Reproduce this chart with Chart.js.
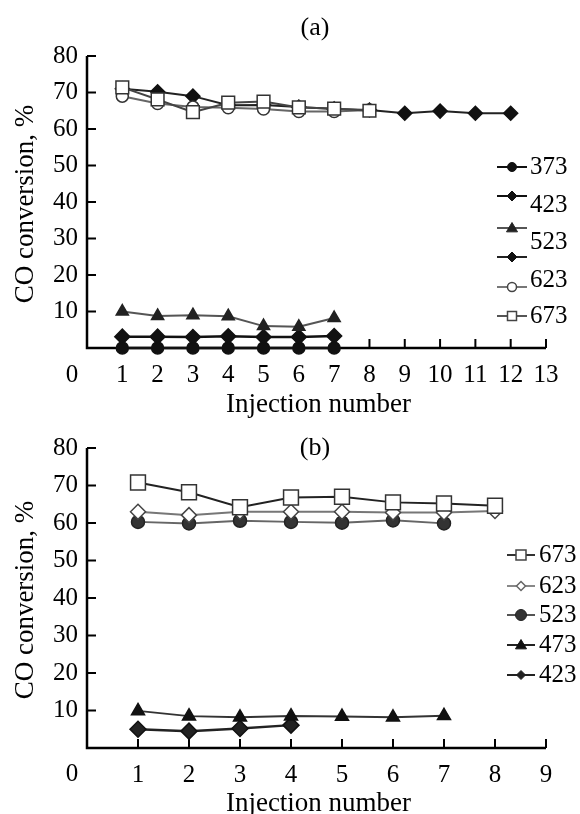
<!DOCTYPE html>
<html><head><meta charset="utf-8">
<script src="https://cdn.jsdelivr.net/npm/chart.js@4.4.1/dist/chart.umd.min.js"></script>
<style>html,body{margin:0;padding:0;background:#fff;}canvas{display:block;}</style>
</head><body>
<canvas id="ca" width="580" height="420"></canvas>
<canvas id="cb" width="580" height="394"></canvas>
<script>
// ---------- DATA ----------
// Panel (a)
const injA7  = [1, 2, 3, 4, 5, 6, 7];
const injA8  = [1, 2, 3, 4, 5, 6, 7, 8];
const injA12 = [1, 2, 3, 4, 5, 6, 7, 8, 9, 10, 11, 12];
const a373 = [0, 0, 0, 0, 0, 0, 0];
const a423 = [3.1, 3.1, 3.0, 3.2, 3.0, 3.0, 3.3];
const a523 = [10, 8.8, 9, 8.7, 6, 5.8, 8.2];
const a573 = [71, 70.2, 69, 66.5, 66.6, 66, 65.5, 65.2, 64.3, 64.9, 64.3, 64.3];
const a623 = [69, 67, 66, 65.8, 65.5, 64.8, 64.8, 65.2];
const a673 = [71.4, 68.1, 64.6, 67.2, 67.5, 65.9, 65.6, 65.0];
const legendTextA = ['373', '423', '523', '623', '673'];
// Panel (b)
const injB4 = [1, 2, 3, 4];
const injB7 = [1, 2, 3, 4, 5, 6, 7];
const injB8 = [1, 2, 3, 4, 5, 6, 7, 8];
const b673 = [70.8, 68.2, 64.2, 66.8, 67, 65.5, 65.2, 64.6];
const b623 = [63, 62.1, 63, 63, 63, 62.8, 62.8, 63.2];
const b523 = [60.3, 59.9, 60.6, 60.3, 60.1, 60.7, 59.9];
const b473 = [9.9, 8.5, 8.2, 8.5, 8.4, 8.2, 8.6];
const b423 = [5.0, 4.5, 5.2, 6.1];
const legendTextB = ['673', '623', '523', '473', '423'];
const yTicks = [0, 10, 20, 30, 40, 50, 60, 70, 80];

const FONT = '"Liberation Serif", "Times New Roman", serif';
const FS = 25;        // tick labels and legend
const FS_AXIS = 27;   // axis titles
const FS_PANEL = 26;  // (a), (b)
Chart.defaults.font.family = FONT;
Chart.defaults.font.size = FS;
Chart.defaults.color = '#000';

const pts = (xs, ys) => xs.map((x, i) => ({x: x, y: ys[i]}));

function ds(label, xs, ys, o) {
  return Object.assign({
    label: label, data: pts(xs, ys), tension: 0, clip: false,
    borderColor: '#222', borderWidth: 2, pointStyle: 'circle', pointRadius: 6,
    pointBackgroundColor: '#111', pointBorderColor: '#111', pointBorderWidth: 1.5
  }, o);
}

function marker(ctx, style, x, y, r, fill, stroke, lw) {
  ctx.save();
  ctx.fillStyle = fill; ctx.strokeStyle = stroke; ctx.lineWidth = lw;
  ctx.beginPath();
  if (style === 'circle') ctx.arc(x, y, r, 0, Math.PI * 2);
  else if (style === 'rect') ctx.rect(x - r, y - r, 2 * r, 2 * r);
  else if (style === 'rectRot') { ctx.moveTo(x, y - r); ctx.lineTo(x + r, y); ctx.lineTo(x, y + r); ctx.lineTo(x - r, y); ctx.closePath(); }
  else if (style === 'triangle') { ctx.moveTo(x, y - r); ctx.lineTo(x + r, y + r * 0.7); ctx.lineTo(x - r, y + r * 0.7); ctx.closePath(); }
  ctx.fill(); ctx.stroke();
  ctx.restore();
}

function makePlugin(cfg) {
  return {
    id: 'deco' + cfg.name,
    beforeDatasetsDraw(chart) {
      const {ctx, scales: {x, y}} = chart;
      const L = x.getPixelForValue(0), R = x.getPixelForValue(cfg.xmax);
      const B = y.getPixelForValue(0), T = y.getPixelForValue(80);
      ctx.save();
      ctx.strokeStyle = '#000'; ctx.lineWidth = 2.5;
      ctx.beginPath(); ctx.moveTo(L, T); ctx.lineTo(L, B); ctx.lineTo(R, B); ctx.stroke();
      ctx.lineWidth = 2; ctx.beginPath();
      x.ticks.forEach(t => { if (t.value > 0) { const p = x.getPixelForValue(t.value); ctx.moveTo(p, B); ctx.lineTo(p, B - 9); } });
      y.ticks.forEach(t => { if (t.value > 0) { const p = y.getPixelForValue(t.value); ctx.moveTo(L, p); ctx.lineTo(L + 9, p); } });
      ctx.stroke();
      ctx.restore();
    },
    afterDraw(chart) {
      const {ctx, scales: {x, y}} = chart;
      const B = y.getPixelForValue(0);
      ctx.save();
      ctx.fillStyle = '#000';
      ctx.textBaseline = 'middle'; ctx.textAlign = 'center';
      ctx.font = FS_PANEL + 'px ' + FONT;
      ctx.fillText(cfg.title, cfg.titleX, cfg.titleY);
      ctx.font = FS_AXIS + 'px ' + FONT;
      ctx.fillText('Injection number', (x.left + x.right) / 2 + 2, B + cfg.xTitleDy);
      ctx.save();
      ctx.translate(26, (y.top + y.bottom) / 2 + 2);
      ctx.rotate(-Math.PI / 2);
      ctx.fillText('CO conversion, %', 0, 0);
      ctx.restore();
      ctx.font = FS + 'px ' + FONT;
      ctx.fillText('0', 72, B + cfg.zeroDy);
      // legend
      cfg.legend.forEach(it => {
        ctx.save(); ctx.strokeStyle = it.line; ctx.lineWidth = 2;
        ctx.beginPath(); ctx.moveTo(it.x0, it.y); ctx.lineTo(it.x1, it.y); ctx.stroke(); ctx.restore();
        marker(ctx, it.style, it.mx, it.y, it.r, it.fill, it.stroke, it.lw);
      });
      ctx.textAlign = 'left';
      cfg.legendText.forEach(t => ctx.fillText(t.t, t.x, t.y));
      ctx.restore();
    }
  };
}

function makeChart(id, datasets, xmax, pad, plugin) {
  return new Chart(document.getElementById(id), {
    type: 'line',
    data: {datasets: datasets},
    options: {
      responsive: false, animation: false, events: [],
      layout: {padding: pad},
      plugins: {legend: {display: false}, tooltip: {enabled: false}, title: {display: false}},
      scales: {
        x: {type: 'linear', min: 0, max: xmax,
            grid: {display: false, drawTicks: false}, border: {display: false},
            ticks: {stepSize: 1, padding: 12, maxRotation: 0, autoSkip: false,
                    callback: v => v === 0 ? '' : String(v)},
            afterFit: s => { s.height = 42; }},
        y: {type: 'linear', min: 0, max: 80,
            grid: {display: false, drawTicks: false}, border: {display: false},
            afterBuildTicks: s => { s.ticks = yTicks.map(v => ({value: v})); },
            ticks: {padding: 9, callback: v => v === 0 ? '' : String(v)},
            afterFit: s => { s.width = 87; }}
      }
    },
    plugins: [plugin]
  });
}

// ---------- Panel (a) ----------
const dsA = [
  ds('673', injA8, a673, {borderColor: '#444', pointStyle: 'rect', pointRadius: 9, pointBackgroundColor: '#fff', pointBorderColor: '#333'}),
  ds('623', injA8, a623, {borderColor: '#666', pointStyle: 'circle', pointRadius: 6, pointBackgroundColor: '#fff', pointBorderColor: '#333'}),
  ds('573', injA12, a573, {borderColor: '#222', pointStyle: 'rectRot', pointRadius: 7, pointBackgroundColor: '#111', pointBorderColor: '#111'}),
  ds('523', injA7, a523, {borderColor: '#555', pointStyle: 'triangle', pointRadius: 7, pointBackgroundColor: '#222', pointBorderColor: '#222'}),
  ds('423', injA7, a423, {borderColor: '#111', borderWidth: 2.5, pointStyle: 'rectRot', pointRadius: 7.5, pointBackgroundColor: '#111', pointBorderColor: '#111'}),
  ds('373', injA7, a373, {borderColor: '#111', borderWidth: 2.5, pointStyle: 'circle', pointRadius: 6, pointBackgroundColor: '#111', pointBorderColor: '#111'})
];
const legA = [
  {y: 167, style: 'circle', r: 4.5, fill: '#111', stroke: '#111', lw: 1, line: '#111'},
  {y: 196, style: 'rectRot', r: 5, fill: '#111', stroke: '#111', lw: 1, line: '#111'},
  {y: 228, style: 'triangle', r: 5.5, fill: '#222', stroke: '#222', lw: 1, line: '#555'},
  {y: 257, style: 'rectRot', r: 5, fill: '#111', stroke: '#111', lw: 1, line: '#222'},
  {y: 287, style: 'circle', r: 4.5, fill: '#fff', stroke: '#444', lw: 1.5, line: '#777'},
  {y: 316, style: 'rect', r: 4.5, fill: '#fff', stroke: '#444', lw: 1.5, line: '#555'}
].map(o => Object.assign(o, {x0: 497, x1: 527, mx: 512}));
const legTA = [167, 205, 242, 280, 316].map((yy, i) => ({t: legendTextA[i], x: 530, y: yy}));
makeChart('ca', dsA, 13, {left: 0, top: 56, right: 34, bottom: 30},
  makePlugin({name: 'a', xmax: 13, title: '(a)', titleX: 315, titleY: 28, xTitleDy: 57, zeroDy: 27,
              legend: legA, legendText: legTA}));

// ---------- Panel (b) ----------
const dsB = [
  ds('673', injB8, b673, {borderColor: '#222', pointStyle: 'rect', pointRadius: 10.5, pointBackgroundColor: '#fff', pointBorderColor: '#333'}),
  ds('623', injB8, b623, {borderColor: '#777', pointStyle: 'rectRot', pointRadius: 7.5, pointBackgroundColor: '#fff', pointBorderColor: '#444'}),
  ds('523', injB7, b523, {borderColor: '#666', pointStyle: 'circle', pointRadius: 6.5, pointBackgroundColor: '#333', pointBorderColor: '#222'}),
  ds('473', injB7, b473, {borderColor: '#333', pointStyle: 'triangle', pointRadius: 7.5, pointBackgroundColor: '#111', pointBorderColor: '#111'}),
  ds('423', injB4, b423, {borderColor: '#222', borderWidth: 2.5, pointStyle: 'rectRot', pointRadius: 8, pointBackgroundColor: '#222', pointBorderColor: '#111'})
];
const legB = [
  {y: 135, style: 'rect', r: 5, fill: '#fff', stroke: '#444', lw: 1.5, line: '#333'},
  {y: 166, style: 'rectRot', r: 4.5, fill: '#fff', stroke: '#666', lw: 1.5, line: '#888'},
  {y: 195, style: 'circle', r: 5.5, fill: '#333', stroke: '#222', lw: 1, line: '#555'},
  {y: 225, style: 'triangle', r: 5.5, fill: '#111', stroke: '#111', lw: 1, line: '#222'},
  {y: 255, style: 'rectRot', r: 4.5, fill: '#222', stroke: '#222', lw: 1, line: '#222'}
].map(o => Object.assign(o, {x0: 507, x1: 535, mx: 521}));
const legTB = [135, 166, 195, 225, 255].map((yy, i) => ({t: legendTextB[i], x: 539, y: yy}));
makeChart('cb', dsB, 9, {left: 0, top: 28, right: 34, bottom: 24},
  makePlugin({name: 'b', xmax: 9, title: '(b)', titleX: 315, titleY: 28, xTitleDy: 56, zeroDy: 26,
              legend: legB, legendText: legTB}));
</script>
</body></html>
